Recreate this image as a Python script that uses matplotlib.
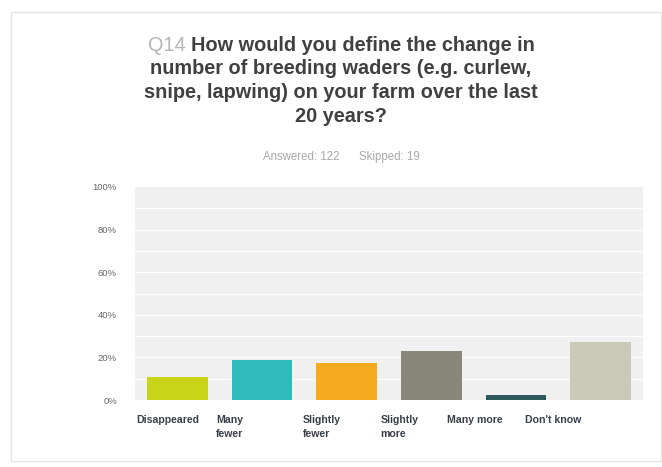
import matplotlib
matplotlib.use("Agg")
import matplotlib.pyplot as plt
from matplotlib.patches import Rectangle

categories = ["Disappeared", "Many\nfewer", "Slightly\nfewer", "Slightly\nmore", "Many more", "Don't know"]
values = [10.66, 19.0, 17.21, 22.95, 2.46, 27.05]
colors = ["#c9d419", "#2fbabc", "#f5ab1e", "#88887a", "#2e5a5c", "#cac9b7"]
yticks = [0, 20, 40, 60, 80, 100]
ytick_labels = ["0%", "20%", "40%", "60%", "80%", "100%"]
label_offsets = [-0.48, -0.54, -0.52, -0.60, -0.82, -0.89]

plt.rcParams['font.family'] = ['Liberation Sans', 'DejaVu Sans']

fig = plt.figure(figsize=(6.62, 4.67), dpi=100)
fig.patch.set_facecolor("white")

# outer frame
fig.patches.append(Rectangle((11/662, 1 - 461/467), (661-11)/662, (461-12)/467,
                             transform=fig.transFigure, fill=False,
                             edgecolor="#e6e6e6", linewidth=1.0))

ax = fig.add_axes([135/662, 1 - 400/467, 508/662, 213/467])
ax.set_facecolor("#f0f0f0")
x = list(range(len(categories)))
ax.bar(x, values, width=0.72, color=colors, zorder=3)
ax.set_xlim(-0.5, len(categories) - 0.5)
ax.set_ylim(0, 100)
for g in range(10, 100, 10):
    ax.axhline(g, color="white", linewidth=0.7, zorder=1)
for s in ax.spines.values():
    s.set_visible(False)
ax.set_yticks(yticks)
ax.set_yticklabels(ytick_labels, fontsize=6.8, color="#666666")
ax.tick_params(axis="y", length=0, pad=13)
ax.set_xticks([])
for i, lab in enumerate(categories):
    ax.text(i + label_offsets[i], -7.0, lab, ha="left", va="top",
            fontsize=7.6, fontweight="bold", color="#3a3f4a", linespacing=1.55,
            transform=ax.transData, clip_on=False)

# title
fs = 14.3
title_lines = ["How would you define the change in",
               "number of breeding waders (e.g. curlew,",
               "snipe, lapwing) on your farm over the last",
               "20 years?"]
ys = [45, 69, 93, 117]
t1 = fig.text(0, 0, "Q14 " + title_lines[0], fontsize=fs, fontweight="bold")
fig.canvas.draw()
renderer = fig.canvas.get_renderer()
w_full = t1.get_window_extent(renderer).width
t1.remove()
tq = fig.text(0, 0, "Q14 ", fontsize=fs)
wq = tq.get_window_extent(renderer).width
tq.remove()
x0 = (341 - w_full / 2) / 662
fig.text(x0, 1 - ys[0] / 467, "Q14 ", fontsize=fs, color="#b5b5b5",
         ha="left", va="center")
fig.text(x0 + wq / 662, 1 - ys[0] / 467, title_lines[0], fontsize=fs,
         fontweight="bold", color="#404040", ha="left", va="center")
for line, y in zip(title_lines[1:], ys[1:]):
    fig.text(341 / 662, 1 - y / 467, line, fontsize=fs, fontweight="bold",
             color="#404040", ha="center", va="center")

fig.text(341 / 662, 1 - 157 / 467, "Answered: 122      Skipped: 19", fontsize=8.3,
         color="#a8a8a8", ha="center", va="center")

fig.savefig("out.png", dpi=100)
